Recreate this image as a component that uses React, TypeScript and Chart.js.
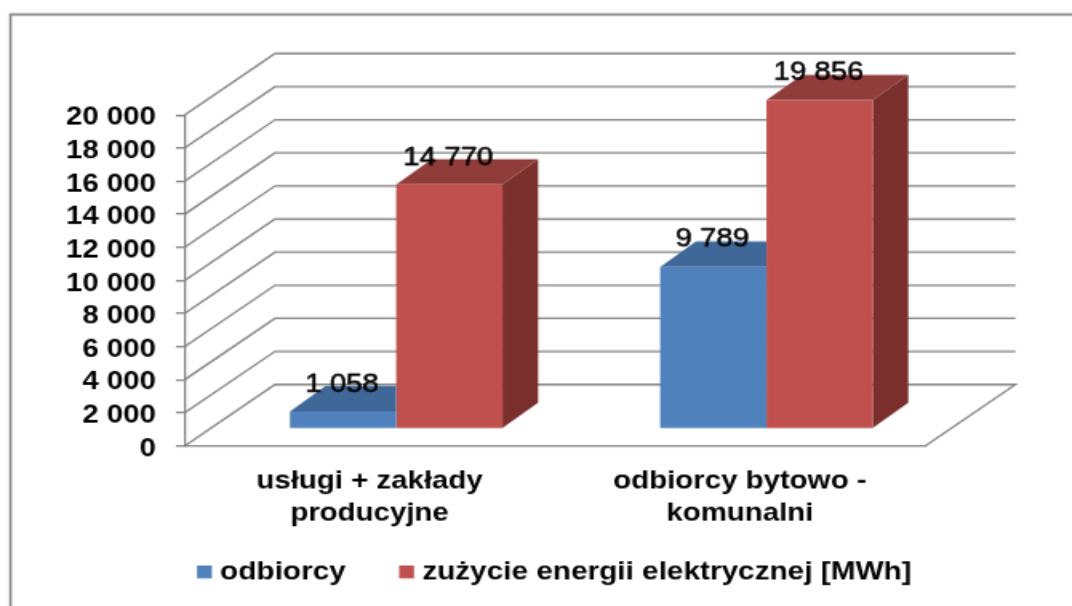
import React, { useEffect, useRef } from "react";
import { Chart, registerables } from "chart.js";

Chart.register(...registerables);

const categories = [["usługi + zakłady", "producyjne"], ["odbiorcy bytowo -", "komunalni"]];
const seriesNames = ["odbiorcy", "zużycie energii elektrycznej [MWh]"];
const odbiorcy = [1058, 9789];
const zuzycie = [14770, 19856];

const CW = 670;
const CH = 433;
const SX = 1072 / CW;
const SY = 606 / CH;
const FS = 18.4;
const LEGEND_FS = 18.6;
const FONT = "'Liberation Sans', Arial, sans-serif";
const GRID = "#868686";
const LABEL_COLOR = "#000000";
const WALL_DX = 90.5 / SX;
const WALL_DY = -61.5 / SY;
const BAR_DX = 26.6 / SX;
const BAR_DY = -17.2 / SY;
const DEPTH_DX = 35.6 / SX;
const DEPTH_DY = -25.3 / SY;
const faces = [
  { top: "#3F6797" },
  { top: "#903C3A", side: "#7A2F2D" },
];

const fmt = (v: number) => String(v).replace(/\B(?=(\d{3})+$)/g, " ");

const chart3d = {
  id: "chart3d",
  beforeDraw(chart: any) {
    const c = chart.ctx;
    c.save();
    c.strokeStyle = GRID;
    c.lineWidth = 1.6;
    c.beginPath();
    c.moveTo(10.5 / SX, CH);
    c.lineTo(10.5 / SX, 14.5 / SY);
    c.lineTo(CW, 14.5 / SY);
    c.stroke();
    c.restore();
  },
  afterLayout(chart: any) {
    const l = chart.legend;
    const x = 127.3;
    const p = l.options.labels.padding;
    l.left = x - p;
    l.right = CW;
    l.top = 408.6 - p - LEGEND_FS / 2;
    chart.scales.x.bottom = CH;
  },
  beforeDatasetsDraw(chart: any) {
    const c = chart.ctx;
    const y = chart.scales.y;
    const { left, right } = chart.chartArea;
    c.save();
    c.strokeStyle = GRID;
    c.lineWidth = 1.3;
    for (const t of y.ticks) {
      const py = y.getPixelForValue(t.value);
      c.beginPath();
      c.moveTo(left, py);
      c.lineTo(left + WALL_DX, py + WALL_DY);
      c.lineTo(right + WALL_DX, py + WALL_DY);
      if (t.value === 0) c.lineTo(right, py);
      c.stroke();
    }
    c.restore();
  },
  beforeDatasetDraw(chart: any, args: any) {
    const c = chart.ctx;
    c.save();
    c.translate(BAR_DX, BAR_DY);
    const f = faces[args.index];
    for (const el of args.meta.data) {
      const { x, y, base, width } = el.getProps(["x", "y", "base", "width"], true);
      const l = x - width / 2;
      const r = x + width / 2;
      c.fillStyle = f.top;
      c.beginPath();
      c.moveTo(l, y);
      c.lineTo(r, y);
      // the first series is painted after the second, and its neighbour hides everything right of r
      if (f.side) c.lineTo(r + DEPTH_DX, y + DEPTH_DY);
      else c.lineTo(r, y + DEPTH_DY);
      c.lineTo(l + DEPTH_DX, y + DEPTH_DY);
      c.closePath();
      c.fill();
      if (f.side) {
        c.fillStyle = f.side;
        c.beginPath();
        c.moveTo(r, y);
        c.lineTo(r + DEPTH_DX, y + DEPTH_DY);
        c.lineTo(r + DEPTH_DX, base + DEPTH_DY);
        c.lineTo(r, base);
        c.closePath();
        c.fill();
      }
    }
  },
  afterDatasetDraw(chart: any) {
    chart.ctx.restore();
  },
  afterDatasetsDraw(chart: any) {
    const c = chart.ctx;
    c.save();
    c.fillStyle = LABEL_COLOR;
    c.strokeStyle = LABEL_COLOR;
    c.lineWidth = 0.45;
    c.font = `400 ${FS}px ${FONT}`;
    c.textAlign = "center";
    c.textBaseline = "middle";
    chart.data.datasets.forEach((ds: any, i: number) => {
      chart.getDatasetMeta(i).data.forEach((el: any, j: number) => {
        const { x, y } = el.getProps(["x", "y"], true);
        const tx = x + BAR_DX - 1 / SX;
        const ty = y + BAR_DY - 27 / SY;
        c.fillText(fmt(ds.data[j]), tx, ty);
        c.strokeText(fmt(ds.data[j]), tx, ty);
      });
    });
    c.restore();
  },
};

export default function App() {
  const ref = useRef<HTMLCanvasElement>(null);
  useEffect(() => {
    const canvas = ref.current!;
    const chart = new Chart(canvas, {
      type: "bar",
      plugins: [chart3d],
      data: {
        labels: categories,
        datasets: [
          { label: seriesNames[0], data: odbiorcy, backgroundColor: "#4F81BD", borderWidth: 0, clip: false },
          { label: seriesNames[1], data: zuzycie, backgroundColor: "#C0504D", borderWidth: 0, clip: false },
        ],
      } as any,
      options: {
        animation: false,
        responsive: false,
        devicePixelRatio: 1,
        layout: { padding: { left: 0, top: 115 / SY, right: CW - 925 / SX, bottom: 0 } },
        datasets: { bar: { categoryPercentage: 0.574, barPercentage: 1 } },
        plugins: {
          tooltip: { enabled: false },
          title: { display: false },
          legend: {
            position: "bottom",
            align: "start",
            labels: {
              usePointStyle: true,
              pointStyle: "rect",
              boxWidth: 1,
              boxHeight: 13 / SY,
              padding: 37.5,
              color: LABEL_COLOR,
              font: { family: FONT, size: LEGEND_FS, weight: "bold" },
            },
          },
        },
        scales: {
          x: {
            grid: { display: false, drawTicks: false },
            border: { display: true, color: GRID, width: 1.3 },
            ticks: {
              color: LABEL_COLOR,
              font: { family: FONT, size: FS, weight: "bold", lineHeight: 1.25 },
              padding: 14,
              maxRotation: 0,
              minRotation: 0,
              autoSkip: false,
            },
            afterFit(s: any) {
              s.height = CH - (s.chart.legend?.height ?? 0) - 446 / SY;
            },
          },
          y: {
            min: 0,
            max: 20000,
            grid: { drawOnChartArea: false, drawTicks: true, tickLength: 8.5 / SX, color: GRID, lineWidth: 1.3 },
            border: { display: true, color: GRID, width: 1.3 },
            ticks: {
              stepSize: 2000,
              autoSkip: false,
              color: LABEL_COLOR,
              font: { family: FONT, size: FS, weight: "bold" },
              padding: 12.5,
              labelOffset: 2,
              callback: (v: any) => fmt(Number(v)),
            },
            afterFit(s: any) {
              s.width = 184.5 / SX;
            },
          },
        },
      },
    } as any);
    canvas.style.width = "1072px";
    canvas.style.height = "606px";
    return () => chart.destroy();
  }, []);
  return (
    <div style={{ position: "fixed", left: 0, top: 0, width: 1072, height: 606, overflow: "hidden", background: "#fff" }}>
      <canvas ref={ref} width={CW} height={CH} style={{ width: 1072, height: 606, display: "block" }} />
    </div>
  );
}
